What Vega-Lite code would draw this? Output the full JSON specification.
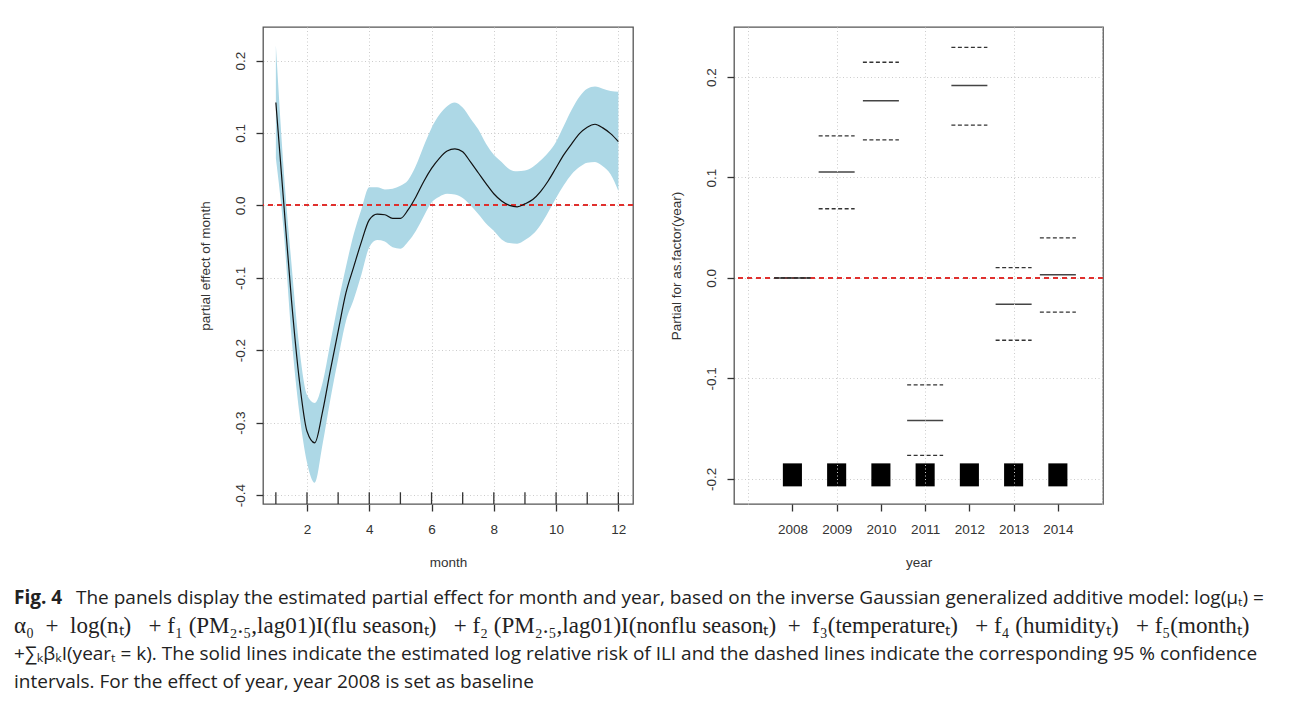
{
  "$schema": "https://vega.github.io/schema/vega-lite/v6.json",
  "background": "white",
  "padding": {"left": 14, "top": 26, "right": 0, "bottom": 0},
  "config": {
    "view": {"stroke": "#555", "strokeWidth": 1.3},
    "axis": {
      "labelFont": "Liberation Sans", "titleFont": "Liberation Sans",
      "labelFontSize": 13.5, "titleFontSize": 13.5, "titleFontWeight": "normal",
      "labelColor": "#333", "titleColor": "#333", "tickColor": "#333",
      "tickSize": 7, "tickWidth": 1.3, "domain": false,
      "gridColor": "#cccccc", "gridDash": [1, 2.5], "gridWidth": 1, "zindex": 1
    }
  },
  "datasets": {
    "month": [
      {"month": 1.0, "est": 0.142, "lower": 0.065, "upper": 0.221},
      {"month": 1.25, "est": 0.005, "lower": -0.035, "upper": 0.05},
      {"month": 1.5, "est": -0.13, "lower": -0.18, "upper": -0.08},
      {"month": 1.75, "est": -0.24, "lower": -0.285, "upper": -0.195},
      {"month": 2.0, "est": -0.312, "lower": -0.355, "upper": -0.262},
      {"month": 2.25, "est": -0.328, "lower": -0.383, "upper": -0.273},
      {"month": 2.5, "est": -0.285, "lower": -0.33, "upper": -0.245},
      {"month": 2.75, "est": -0.228, "lower": -0.268, "upper": -0.19},
      {"month": 3.0, "est": -0.174, "lower": -0.212, "upper": -0.135},
      {"month": 3.25, "est": -0.121, "lower": -0.16, "upper": -0.085},
      {"month": 3.5, "est": -0.085, "lower": -0.13, "upper": -0.04},
      {"month": 3.75, "est": -0.05, "lower": -0.095, "upper": -0.005},
      {"month": 4.0, "est": -0.02, "lower": -0.058, "upper": 0.025},
      {"month": 4.25, "est": -0.012, "lower": -0.048, "upper": 0.025},
      {"month": 4.5, "est": -0.013, "lower": -0.05, "upper": 0.022},
      {"month": 4.75, "est": -0.018, "lower": -0.058, "upper": 0.023},
      {"month": 5.0, "est": -0.018, "lower": -0.06, "upper": 0.027},
      {"month": 5.25, "est": -0.006, "lower": -0.05, "upper": 0.035},
      {"month": 5.5, "est": 0.012, "lower": -0.035, "upper": 0.055},
      {"month": 5.75, "est": 0.033, "lower": -0.015, "upper": 0.082},
      {"month": 6.0, "est": 0.051, "lower": 0.004, "upper": 0.107},
      {"month": 6.25, "est": 0.065, "lower": 0.012, "upper": 0.125},
      {"month": 6.5, "est": 0.075, "lower": 0.016, "upper": 0.137},
      {"month": 6.75, "est": 0.078, "lower": 0.015, "upper": 0.142},
      {"month": 7.0, "est": 0.074, "lower": 0.01, "upper": 0.135},
      {"month": 7.25, "est": 0.06, "lower": 0.0, "upper": 0.12},
      {"month": 7.5, "est": 0.045, "lower": -0.012, "upper": 0.105},
      {"month": 7.75, "est": 0.03, "lower": -0.025, "upper": 0.085},
      {"month": 8.0, "est": 0.016, "lower": -0.035, "upper": 0.07},
      {"month": 8.25, "est": 0.006, "lower": -0.047, "upper": 0.06},
      {"month": 8.5, "est": 0.0, "lower": -0.052, "upper": 0.05},
      {"month": 8.75, "est": -0.002, "lower": -0.053, "upper": 0.047},
      {"month": 9.0, "est": 0.002, "lower": -0.048, "upper": 0.048},
      {"month": 9.25, "est": 0.008, "lower": -0.04, "upper": 0.053},
      {"month": 9.5, "est": 0.019, "lower": -0.027, "upper": 0.062},
      {"month": 9.75, "est": 0.034, "lower": -0.009, "upper": 0.073},
      {"month": 10.0, "est": 0.052, "lower": 0.01, "upper": 0.088},
      {"month": 10.25, "est": 0.07, "lower": 0.028, "upper": 0.11},
      {"month": 10.5, "est": 0.085, "lower": 0.043, "upper": 0.132},
      {"month": 10.75, "est": 0.099, "lower": 0.053, "upper": 0.15},
      {"month": 11.0, "est": 0.108, "lower": 0.059, "upper": 0.161},
      {"month": 11.25, "est": 0.112, "lower": 0.06, "upper": 0.164},
      {"month": 11.5, "est": 0.107, "lower": 0.054, "upper": 0.161},
      {"month": 11.75, "est": 0.099, "lower": 0.043, "upper": 0.158},
      {"month": 12.0, "est": 0.088, "lower": 0.02, "upper": 0.157}
    ],
    "rug": [
      {"month": 1}, {"month": 2}, {"month": 3}, {"month": 4}, {"month": 5}, {"month": 6},
      {"month": 7}, {"month": 8}, {"month": 9}, {"month": 10}, {"month": 11}, {"month": 12}
    ],
    "year": [
      {"year": 2008, "est": 0.0, "lower": 0.0, "upper": 0.0},
      {"year": 2009, "est": 0.1054, "lower": 0.0689, "upper": 0.1415},
      {"year": 2010, "est": 0.1763, "lower": 0.1375, "upper": 0.2147},
      {"year": 2011, "est": -0.1418, "lower": -0.1766, "upper": -0.1064},
      {"year": 2012, "est": 0.1915, "lower": 0.1521, "upper": 0.2296},
      {"year": 2013, "est": -0.0262, "lower": -0.062, "upper": 0.0103},
      {"year": 2014, "est": 0.0033, "lower": -0.0341, "upper": 0.0398}
    ],
    "caption": [
      {"line": 1, "part": "bold", "text": "Fig. 4"},
      {"line": 1, "part": "rest", "text": "The panels display the estimated partial effect for month and year, based on the inverse Gaussian generalized additive model:  log(μₜ) ="},
      {"line": 2, "part": "serif", "text": "α₀\u00a0\u00a0+\u00a0\u00a0log(nₜ)\u00a0\u00a0\u00a0+\u00a0f₁\u00a0(PM₂.₅,lag01)I(flu\u00a0seasonₜ)\u00a0\u00a0\u00a0+\u00a0f₂\u00a0(PM₂.₅,lag01)I(nonflu\u00a0seasonₜ)\u00a0\u00a0+\u00a0\u00a0f₃(temperatureₜ)\u00a0\u00a0\u00a0+\u00a0f₄\u00a0(humidityₜ)\u00a0\u00a0\u00a0+\u00a0f₅(monthₜ)"},
      {"line": 3, "part": "sans", "text": "+∑ₖβₖI(yearₜ = k). The solid lines indicate the estimated log relative risk of ILI and the dashed lines indicate the corresponding 95 % confidence"},
      {"line": 4, "part": "sans", "text": "intervals. For the effect of year, year 2008 is set as baseline"}
    ]
  },
  "spacing": 14,
  "vconcat": [
    {
      "spacing": 33,
      "hconcat": [
        {
          "width": 150, "height": 477,
          "view": {"stroke": null},
          "data": {"values": []},
          "mark": "point"
        },
        {
          "width": 370, "height": 477,
          "data": {"name": "month"},
          "encoding": {
            "x": {
              "field": "month", "type": "quantitative",
              "scale": {"domain": [0.587, 12.47], "nice": false, "zero": false},
              "axis": {"values": [2, 4, 6, 8, 10, 12], "format": "d", "title": "month", "labelPadding": 11, "titlePadding": 20, "grid": true}
            }
          },
          "layer": [
            {
              "mark": {"type": "area", "color": "#ADD8E6", "interpolate": "monotone"},
              "encoding": {
                "y": {
                  "field": "lower", "type": "quantitative",
                  "scale": {"domain": [-0.4124, 0.2463], "nice": false, "zero": false},
                  "axis": {"values": [-0.4, -0.3, -0.2, -0.1, 0, 0.1, 0.2], "labelExpr": "replace(format(datum.value, '.1f'), '−', '-')", "labelAngle": -90, "labelAlign": "center", "labelBaseline": "bottom", "labelPadding": 9, "title": "partial effect of month", "titlePadding": 21, "grid": true}
                },
                "y2": {"field": "upper"}
              }
            },
            {
              "mark": {"type": "rule", "color": "#e0302f", "strokeDash": [5, 4], "strokeWidth": 1.3},
              "encoding": {"x": null, "y": {"datum": 0, "type": "quantitative"}}
            },
            {
              "mark": {"type": "line", "color": "#111", "strokeWidth": 1.2, "interpolate": "monotone"},
              "encoding": {"y": {"field": "est", "type": "quantitative"}}
            },
            {
              "data": {"name": "rug"},
              "mark": {"type": "rule", "color": "#333", "strokeWidth": 1.3},
              "encoding": {
                "y": {"datum": -0.4124, "type": "quantitative"},
                "y2": {"datum": -0.3962}
              }
            }
          ]
        },
        {
          "width": 369, "height": 477,
          "data": {"name": "year"},
          "resolve": {"axis": {"x": "independent"}},
          "layer": [
            {
              "mark": {"type": "rule", "color": "#e0302f", "strokeDash": [5, 4], "strokeWidth": 1.3},
              "encoding": {
                "y": {
                  "datum": 0, "type": "quantitative",
                  "scale": {"domain": [-0.225, 0.2498], "nice": false, "zero": false},
                  "axis": {"values": [-0.2, -0.1, 0, 0.1, 0.2], "labelExpr": "replace(format(datum.value, '.1f'), '−', '-')", "labelAngle": -90, "labelAlign": "center", "labelBaseline": "bottom", "labelPadding": 9, "title": "Partial for as.factor(year)", "titlePadding": 21, "grid": true}
                }
              }
            },
            {
              "mark": {"type": "rule", "color": "#444", "strokeWidth": 1.5, "xOffset": -18, "x2Offset": 18},
              "encoding": {
                "x": {
                  "field": "year", "type": "quantitative",
                  "scale": {"domain": [2006.68, 2015.02], "nice": false, "zero": false},
                  "axis": {"values": [2008, 2009, 2010, 2011, 2012, 2013, 2014], "format": "d", "title": "year", "grid": false, "orient": "bottom", "labelPadding": 11, "titlePadding": 20}
                },
                "x2": {"field": "year"},
                "y": {"field": "est", "type": "quantitative", "axis": {"values": [-0.2, -0.1, 0, 0.1, 0.2], "labelExpr": "replace(format(datum.value, '.1f'), '−', '-')", "labelAngle": -90, "labelAlign": "center", "labelBaseline": "bottom", "labelPadding": 9, "title": "Partial for as.factor(year)", "titlePadding": 21, "grid": true}}
              }
            },
            {
              "mark": {"type": "rule", "color": "#333", "strokeWidth": 1.3, "strokeDash": [4, 2.5], "xOffset": -18, "x2Offset": 18},
              "encoding": {
                "x": {
                  "field": "year", "type": "quantitative",
                  "axis": {"values": [2007, 2009, 2011, 2013, 2015], "grid": true, "labels": false, "ticks": false, "title": null, "orient": "bottom", "zindex": 1}
                },
                "x2": {"field": "year"},
                "y": {"field": "lower", "type": "quantitative", "axis": {"values": [-0.2, -0.1, 0, 0.1, 0.2], "labelExpr": "replace(format(datum.value, '.1f'), '−', '-')", "labelAngle": -90, "labelAlign": "center", "labelBaseline": "bottom", "labelPadding": 9, "title": "Partial for as.factor(year)", "titlePadding": 21, "grid": true}}
              }
            },
            {
              "mark": {"type": "rule", "color": "#333", "strokeWidth": 1.3, "strokeDash": [4, 2.5], "xOffset": -18, "x2Offset": 18},
              "encoding": {
                "x": {"field": "year", "type": "quantitative", "axis": null},
                "x2": {"field": "year"},
                "y": {"field": "upper", "type": "quantitative", "axis": {"values": [-0.2, -0.1, 0, 0.1, 0.2], "labelExpr": "replace(format(datum.value, '.1f'), '−', '-')", "labelAngle": -90, "labelAlign": "center", "labelBaseline": "bottom", "labelPadding": 9, "title": "Partial for as.factor(year)", "titlePadding": 21, "grid": true}}
              }
            },
            {
              "mark": {"type": "point", "shape": "M-0.83,-1H0.83V1H-0.83Z", "size": 529, "filled": true, "color": "#000", "opacity": 1},
              "encoding": {
                "x": {"field": "year", "type": "quantitative", "axis": null},
                "y": {"datum": -0.196, "type": "quantitative"}
              }
            }
          ]
        }
      ]
    },
    {
      "width": 1262, "height": 112,
      "view": {"stroke": null},
      "data": {"name": "caption"},
      "encoding": {
        "y": {"field": "line", "type": "ordinal", "axis": null, "scale": {"domain": [1, 2, 3, 4]}},
        "x": {"value": 0},
        "text": {"field": "text"}
      },
      "layer": [
        {
          "transform": [{"filter": "datum.part === 'bold'"}],
          "mark": {"type": "text", "align": "left", "baseline": "middle", "font": "Open Sans", "fontSize": 19, "fontWeight": "bold", "color": "#222"}
        },
        {
          "transform": [{"filter": "datum.part === 'rest'"}],
          "mark": {"type": "text", "align": "left", "baseline": "middle", "font": "Open Sans", "fontSize": 19, "color": "#222", "dx": 62}
        },
        {
          "transform": [{"filter": "datum.part === 'sans'"}],
          "mark": {"type": "text", "align": "left", "baseline": "middle", "font": "Open Sans", "fontSize": 19, "color": "#222"}
        },
        {
          "transform": [{"filter": "datum.part === 'serif'"}],
          "mark": {"type": "text", "align": "left", "baseline": "middle", "font": "Liberation Serif", "fontSize": 23, "color": "#222"}
        }
      ]
    }
  ]
}
